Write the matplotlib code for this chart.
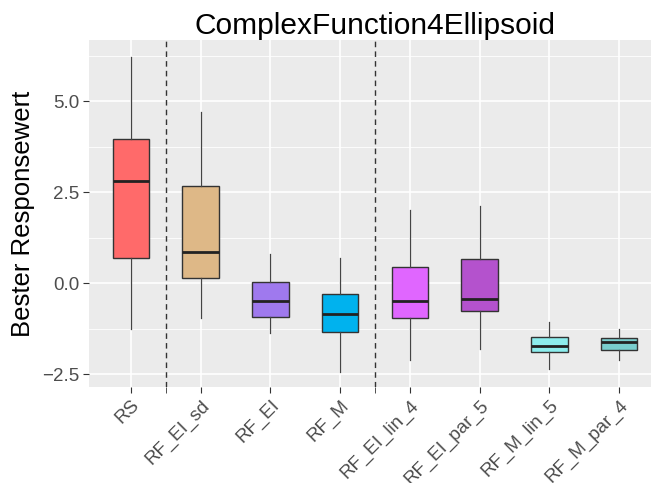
import matplotlib
matplotlib.use("Agg")
import matplotlib.pyplot as plt

plt.rcParams['font.family'] = ['Liberation Sans', 'DejaVu Sans']

# Daten
labels = ["RS", "RF_EI_sd", "RF_EI", "RF_M", "RF_EI_lin_4", "RF_EI_par_5", "RF_M_lin_5", "RF_M_par_4"]
whislo = [-1.25, -0.95, -1.38, -2.44, -2.12, -1.81, -2.36, -2.12]
q1 = [0.68, 0.14, -0.93, -1.34, -0.96, -0.78, -1.90, -1.83]
med = [2.80, 0.84, -0.49, -0.85, -0.48, -0.45, -1.72, -1.61]
q3 = [3.97, 2.66, 0.03, -0.29, 0.43, 0.67, -1.47, -1.50]
whishi = [6.22, 4.69, 0.80, 0.68, 2.00, 2.11, -1.07, -1.27]
colors = ["#FF6A6A", "#DEB887", "#9F79EE", "#00B2EE", "#E066FF", "#B452CD", "#8DEEEE", "#79CDCD"]
vlines = [1.5, 4.5]

fig = plt.figure(figsize=(6.51, 4.83), dpi=100)
ax = fig.add_axes([89 / 651, 1 - 387 / 483, 572 / 651, 347 / 483])
ax.set_facecolor("#EBEBEB")

stats = []
for i, lab in enumerate(labels):
    stats.append(dict(label=lab, whislo=whislo[i], q1=q1[i], med=med[i], q3=q3[i], whishi=whishi[i], fliers=[]))

pos = list(range(1, len(labels) + 1))
bp = ax.bxp(stats, positions=pos, widths=0.52, patch_artist=True, showcaps=False,
            boxprops=dict(edgecolor="#333333", linewidth=1.0),
            whiskerprops=dict(color="#444444", linewidth=0.9),
            medianprops=dict(color="#222222", linewidth=2.0), zorder=3)
for patch, c in zip(bp["boxes"], colors):
    patch.set_facecolor(c)

# gestrichelte Trennlinien
for v in vlines:
    ax.axvline(v, color="#333333", linestyle=(0, (4, 3)), linewidth=1.0, zorder=2)

ax.set_xlim(0.4, 8.6)
ax.set_ylim(-2.857, 6.68)
ax.set_yticks([-2.5, 0.0, 2.5, 5.0])
ax.set_yticklabels(["\u22122.5", "0.0", "2.5", "5.0"])
ax.set_yticks([-1.25, 1.25, 3.75, 6.25], minor=True)
ax.set_xticks(pos)
ax.set_xticklabels(labels, rotation=45, ha="right", va="top", rotation_mode="anchor")
ax.set_xticks(vlines, minor=True)

ax.grid(True, which="major", color="white", linewidth=1.2, zorder=0)
ax.grid(True, which="minor", axis="y", color="white", linewidth=0.6, zorder=0)
ax.set_axisbelow(True)
for s in ax.spines.values():
    s.set_visible(False)

ax.tick_params(axis="both", which="major", length=4, color="#333333", labelsize=13.5, labelcolor="#4D4D4D", pad=3)
ax.tick_params(axis="y", which="minor", length=0)
ax.tick_params(axis="x", which="minor", length=4, color="#333333")

ax.set_ylabel("Bester Responsewert", fontsize=18.5, color="black", labelpad=5)
ax.set_title("ComplexFunction4Ellipsoid", fontsize=21.5, pad=4)

fig.savefig("out.png", dpi=100)
